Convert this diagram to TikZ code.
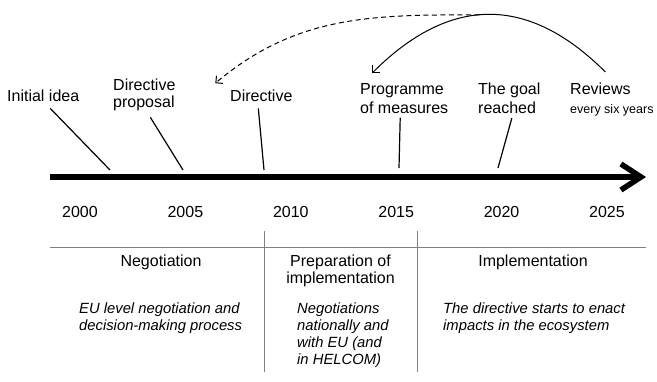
\documentclass[tikz,border=0pt]{standalone}
\usepackage{fontspec}
\setmainfont{Liberation Sans}
\usepackage{xcolor}
\definecolor{Rule}{RGB}{128,128,128}
\usetikzlibrary{arrows.meta}
\tikzstyle{event} = [inner sep=0pt, align=left, font=\fontsize{16}{19}\selectfont]
\tikzstyle{year} = [inner sep=0pt, anchor=base, font=\fontsize{16}{19}\selectfont]
\tikzstyle{phase} = [inner sep=0pt, anchor=north, align=center,
    font=\fontsize{16}{17}\selectfont]
\tikzstyle{note} = [inner sep=0pt, anchor=north west, align=left,
    font=\fontsize{14.8}{17}\selectfont\itshape]
\tikzstyle{tick} = [draw, line width=1.2pt]
\tikzstyle{axis} = [draw, line width=5.5pt, -{Straight Barb[length=20pt,width=26pt]}]
\tikzstyle{divider} = [draw=Rule, line width=0.9pt]
\tikzstyle{back} = [draw, line width=1pt, -{Straight Barb[length=5pt,width=10pt]}]

\begin{document}
\begin{tikzpicture}[x=1pt, y=1pt]
  \useasboundingbox (0,0) rectangle (657,381);
  % time axis and years
  \coordinate (t0) at (50,204);
  \coordinate (t1) at (646,204);
  \path [axis] (t0) -- (t1);
  \foreach \yr [count=\i from 0] in {2000,2005,2010,2015,2020,2025}
    \node [year] (y\yr) at (80+105.4*\i,163) {\yr};
  %
  \node [event, anchor=base west] (idea) at (7,279) {Initial idea};
  \node [event, anchor=north west, font=\fontsize{16}{17}\selectfont] (proposal) at (113,302) {Directive\\proposal};
  \node [event, anchor=base west] (directive) at (230,279) {Directive};
  \node [event, anchor=north west] (measures) at (360,298) {Programme\\of measures};
  \node [event, anchor=north west] (goal) at (478,298) {The goal\\reached};
  \node [event, anchor=north west] (reviews) at (570,298) {Reviews\\{\fontsize{12.5}{19}\selectfont every six years}};
  %
  \coordinate (c-idea) at (110,211);
  \coordinate (c-proposal) at (183,211);
  \coordinate (c-directive) at (264,211);
  \coordinate (c-measures) at (399,213);
  \coordinate (c-goal) at (498,213);
  \path [tick] ([xshift=7pt,yshift=-6pt]idea.south) -- (c-idea);
  \path [tick] ([xshift=6pt,yshift=-6pt]proposal.south) -- (c-proposal);
  \path [tick] ([xshift=-3pt,yshift=-6pt]directive.south) -- (c-directive);
  \path [tick] ([xshift=-4pt,yshift=-4pt]measures.south) -- (c-measures);
  \path [tick] ([xshift=2.5pt,yshift=-4pt]goal.south) -- (c-goal);
  %
  \path [back] ([xshift=-6.5pt,yshift=11pt]reviews.north) to[out=135, in=45, looseness=1.2]
    coordinate[pos=0.54] (apex) ([xshift=-32pt,yshift=10pt]measures.north);
  \path [back, dash pattern=on 5pt off 3.5pt] (apex) to[out=180, in=40]
    ([xshift=-46pt,yshift=7pt]directive.north);
  % phases below the axis
  \coordinate (r0) at (50,134);
  \coordinate (r1) at (646,134);
  \path [divider] (r0) -- (r1);
  \foreach \x in {264,417}
    \path [divider] (\x,150) -- (\x,9);
  \node [phase] (negotiation) at (161,126) {Negotiation};
  \node [phase] (preparation) at (340.5,126) {Preparation of\\implementation};
  \node [phase] (implementation) at (533,126) {Implementation};
  \node [note] (n-negotiation) at (79,78) {EU level negotiation and\\decision-making process};
  \node [note] (n-preparation) at (297,78) {Negotiations\\nationally and\\with EU (and\\in HELCOM)};
  \node [note] (n-implementation) at (443,78) {The directive starts to enact\\impacts in the ecosystem};
\end{tikzpicture}
\end{document}
